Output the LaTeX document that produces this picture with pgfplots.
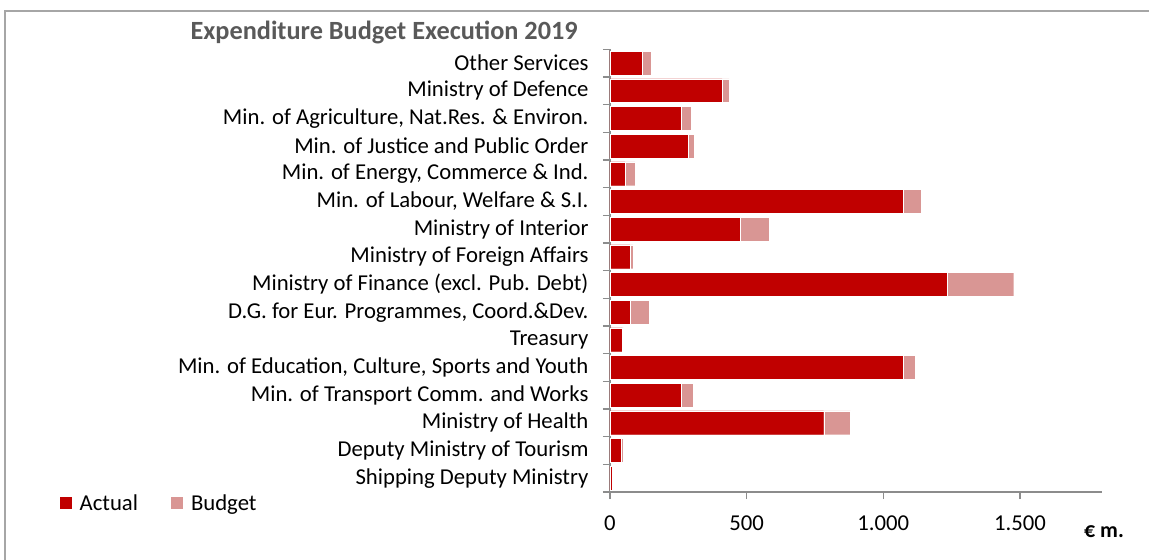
\documentclass[border=0pt]{standalone}
\usepackage{fontspec}
\setmainfont{Carlito}
\usepackage{pgfplots}
\pgfplotsset{compat=1.18}
\definecolor{actual}{HTML}{C00000}
\definecolor{budget}{HTML}{D99694}
\definecolor{axgray}{HTML}{8C8C8C}
\definecolor{framegray}{HTML}{A6A6A6}
\definecolor{titlegray}{HTML}{595959}
\begin{document}
\begin{tikzpicture}
\path[use as bounding box] (-610bp,-68bp) rectangle (539bp,492bp);
\draw[framegray, line width=1.5bp] (-605bp,-90bp) -- (-605bp,481bp) -- (560bp,481bp);
\begin{axis}[
  at={(0,0)}, anchor=south west,
  scale only axis, width=492bp, height=442.7bp,
  xmin=0, xmax=1800, ymin=-0.5, ymax=15.5,
  xbar, bar width=0.86, bar shift=0pt,
  axis x line*=bottom, axis y line*=left,
  axis line style={axgray, line width=1.5bp, -},
  tick style={axgray, line width=1.2bp},
  tick align=outside, major tick length=7bp,
  xtick={0,500,1000,1500}, xticklabels={0,500,1.000,1.500},
  xticklabel style={yshift=-13bp},
  ytick={-0.5,0.5,...,15.5}, yticklabels={},
  extra y ticks={0,1,...,15},
  extra y tick labels={Shipping Deputy Ministry, Deputy Ministry of Tourism, Ministry of Health, Min. of Transport Comm. and Works, {Min. of Education, Culture, Sports and Youth}, Treasury, {D.G. for Eur. Programmes, Coord.\&Dev.}, Ministry of Finance (excl. Pub. Debt), Ministry of Foreign Affairs, Ministry of Interior, {Min. of Labour, Welfare \& S.I.}, {Min. of Energy, Commerce \& Ind.}, Min. of Justice and Public Order, {Min. of Agriculture, Nat.Res. \& Environ.}, Ministry of Defence, Other Services},
  extra y tick style={major tick length=0pt, yticklabel style={xshift=-18bp}},
  every tick label/.append style={font=\fontsize{22.8}{27}\selectfont, text=black},
  legend image code/.code={\fill[#1, draw=none] (0bp,-6bp) rectangle (12bp,6bp); \path[draw=none, fill=none] (0bp,0bp) -- (18bp,0bp);},
  legend style={at={(axis description cs:-1.125,-0.025)}, anchor=west, draw=none, fill=none,
    font=\fontsize{22.8}{27}\selectfont, /tikz/every even column/.append style={column sep=31bp}},
  legend columns=2,
]
\addplot[fill=budget, draw=white, line width=0.4bp, forget plot] coordinates {
(9,0) (50,1) (879,2) (304,3) (1115,4) (49,5) (142,6) (1477,7)
(85,8) (581,9) (1139,10) (92,11) (307,12) (297,13) (436,14) (150,15)};
\addplot[fill=actual, draw=white, line width=0.4bp, forget plot] coordinates {
(7,0) (41,1) (782,2) (262,3) (1074,4) (45,5) (73,6) (1235,7)
(73,8) (475,9) (1074,10) (55,11) (285,12) (259,13) (410,14) (117,15)};
\addlegendimage{fill=actual}
\addlegendentry{Actual}
\addlegendimage{fill=budget}
\addlegendentry{Budget}
\end{axis}
\node[anchor=east, inner sep=0pt, font=\bfseries\fontsize{26.4}{30}\selectfont, text=titlegray] at (-32bp,460bp) {Expenditure Budget Execution 2019};
\node[inner sep=0pt, font=\bfseries\fontsize{22}{26}\selectfont] at (494bp,-40bp) {€ m.};
\end{tikzpicture}
\end{document}
